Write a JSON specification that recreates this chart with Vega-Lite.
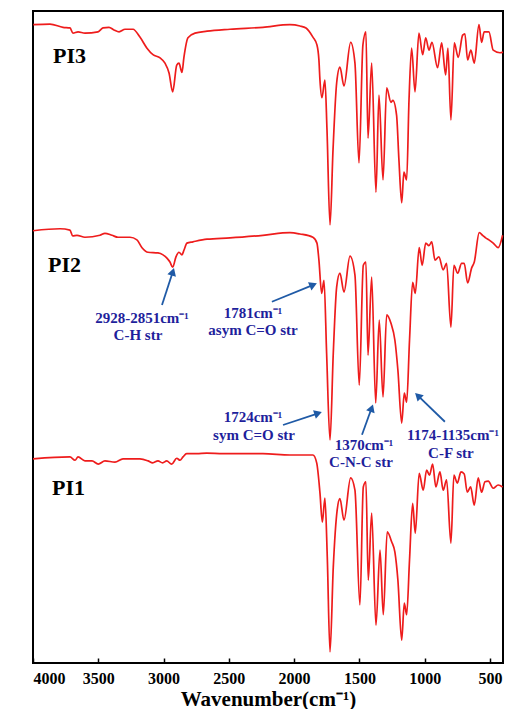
{
  "$schema": "https://vega.github.io/schema/vega-lite/v6.json",
  "autosize": "none",
  "width": 470,
  "height": 652,
  "padding": {"left": 33, "top": 11, "right": 4, "bottom": 46},
  "background": "white",
  "config": {
    "view": {"stroke": "black", "strokeWidth": 2},
    "font": "Liberation Serif"
  },
  "datasets": {
    "spectra": [
      {"s":"PI3","w":3998,"t":97.9},{"s":"PI3","w":3870,"t":98.0},{"s":"PI3","w":3770,"t":97.5},{"s":"PI3","w":3717,"t":97.4},{"s":"PI3","w":3694,"t":96.6},{"s":"PI3","w":3655,"t":96.8},{"s":"PI3","w":3602,"t":96.6},{"s":"PI3","w":3502,"t":96.8},{"s":"PI3","w":3464,"t":97.4},{"s":"PI3","w":3418,"t":97.5},{"s":"PI3","w":3380,"t":97.1},{"s":"PI3","w":3341,"t":96.8},{"s":"PI3","w":3295,"t":97.2},{"s":"PI3","w":3234,"t":97.2},{"s":"PI3","w":3181,"t":96.0},{"s":"PI3","w":3127,"t":94.3},{"s":"PI3","w":3081,"t":93.3},{"s":"PI3","w":3027,"t":92.8},{"s":"PI3","w":2989,"t":92.0},{"s":"PI3","w":2958,"t":90.5},{"s":"PI3","w":2930,"t":87.6},{"s":"PI3","w":2899,"t":91.7},{"s":"PI3","w":2882,"t":92.0},{"s":"PI3","w":2859,"t":90.6},{"s":"PI3","w":2844,"t":92.9},{"s":"PI3","w":2813,"t":95.9},{"s":"PI3","w":2759,"t":96.6},{"s":"PI3","w":2667,"t":96.9},{"s":"PI3","w":2491,"t":97.2},{"s":"PI3","w":2239,"t":97.5},{"s":"PI3","w":2032,"t":97.9},{"s":"PI3","w":1955,"t":97.7},{"s":"PI3","w":1909,"t":97.4},{"s":"PI3","w":1856,"t":96.0},{"s":"PI3","w":1825,"t":94.8},{"s":"PI3","w":1810,"t":92.5},{"s":"PI3","w":1802,"t":89.4},{"s":"PI3","w":1787,"t":86.7},{"s":"PI3","w":1764,"t":89.4},{"s":"PI3","w":1748,"t":81.7},{"s":"PI3","w":1725,"t":67.2},{"s":"PI3","w":1702,"t":78.7},{"s":"PI3","w":1674,"t":89.0},{"s":"PI3","w":1649,"t":91.4},{"s":"PI3","w":1618,"t":88.5},{"s":"PI3","w":1567,"t":95.2},{"s":"PI3","w":1534,"t":92.0},{"s":"PI3","w":1503,"t":76.7},{"s":"PI3","w":1473,"t":94.8},{"s":"PI3","w":1450,"t":96.8},{"s":"PI3","w":1434,"t":80.5},{"s":"PI3","w":1406,"t":92.0},{"s":"PI3","w":1373,"t":72.2},{"s":"PI3","w":1350,"t":87.1},{"s":"PI3","w":1319,"t":74.1},{"s":"PI3","w":1291,"t":88.2},{"s":"PI3","w":1258,"t":86.0},{"s":"PI3","w":1243,"t":86.3},{"s":"PI3","w":1215,"t":84.0},{"s":"PI3","w":1197,"t":77.1},{"s":"PI3","w":1176,"t":70.6},{"s":"PI3","w":1159,"t":75.3},{"s":"PI3","w":1138,"t":74.1},{"s":"PI3","w":1120,"t":86.3},{"s":"PI3","w":1100,"t":94.3},{"s":"PI3","w":1074,"t":87.6},{"s":"PI3","w":1044,"t":96.6},{"s":"PI3","w":1015,"t":93.3},{"s":"PI3","w":992,"t":95.9},{"s":"PI3","w":967,"t":94.0},{"s":"PI3","w":944,"t":95.2},{"s":"PI3","w":901,"t":91.3},{"s":"PI3","w":870,"t":95.1},{"s":"PI3","w":839,"t":90.2},{"s":"PI3","w":822,"t":94.3},{"s":"PI3","w":799,"t":83.3},{"s":"PI3","w":773,"t":95.1},{"s":"PI3","w":743,"t":92.9},{"s":"PI3","w":709,"t":96.3},{"s":"PI3","w":692,"t":96.5},{"s":"PI3","w":671,"t":92.5},{"s":"PI3","w":646,"t":94.0},{"s":"PI3","w":620,"t":92.0},{"s":"PI3","w":584,"t":97.9},{"s":"PI3","w":564,"t":95.2},{"s":"PI3","w":544,"t":96.8},{"s":"PI3","w":508,"t":96.8},{"s":"PI3","w":475,"t":94.0},{"s":"PI3","w":423,"t":93.6},{"s":"PI3","w":400,"t":93.7},
      {"s":"PI2","w":4000,"t":66.3},{"s":"PI2","w":3793,"t":66.6},{"s":"PI2","w":3717,"t":66.4},{"s":"PI2","w":3696,"t":65.5},{"s":"PI2","w":3663,"t":65.6},{"s":"PI2","w":3602,"t":65.3},{"s":"PI2","w":3487,"t":65.6},{"s":"PI2","w":3449,"t":65.9},{"s":"PI2","w":3395,"t":65.6},{"s":"PI2","w":3349,"t":65.3},{"s":"PI2","w":3257,"t":65.3},{"s":"PI2","w":3204,"t":64.9},{"s":"PI2","w":3165,"t":63.7},{"s":"PI2","w":3119,"t":63.0},{"s":"PI2","w":3043,"t":62.9},{"s":"PI2","w":3004,"t":62.6},{"s":"PI2","w":2974,"t":62.1},{"s":"PI2","w":2951,"t":61.5},{"s":"PI2","w":2930,"t":60.7},{"s":"PI2","w":2905,"t":62.3},{"s":"PI2","w":2882,"t":63.0},{"s":"PI2","w":2859,"t":62.6},{"s":"PI2","w":2844,"t":63.3},{"s":"PI2","w":2821,"t":64.4},{"s":"PI2","w":2775,"t":64.6},{"s":"PI2","w":2667,"t":65.0},{"s":"PI2","w":2491,"t":65.2},{"s":"PI2","w":2239,"t":65.6},{"s":"PI2","w":2032,"t":66.0},{"s":"PI2","w":1955,"t":65.8},{"s":"PI2","w":1856,"t":65.3},{"s":"PI2","w":1825,"t":64.4},{"s":"PI2","w":1810,"t":61.8},{"s":"PI2","w":1789,"t":56.7},{"s":"PI2","w":1771,"t":58.7},{"s":"PI2","w":1751,"t":47.5},{"s":"PI2","w":1725,"t":34.2},{"s":"PI2","w":1700,"t":47.5},{"s":"PI2","w":1674,"t":57.7},{"s":"PI2","w":1649,"t":59.8},{"s":"PI2","w":1618,"t":56.9},{"s":"PI2","w":1572,"t":62.4},{"s":"PI2","w":1534,"t":59.5},{"s":"PI2","w":1501,"t":42.6},{"s":"PI2","w":1470,"t":61.0},{"s":"PI2","w":1450,"t":61.5},{"s":"PI2","w":1434,"t":47.2},{"s":"PI2","w":1406,"t":59.2},{"s":"PI2","w":1375,"t":39.9},{"s":"PI2","w":1348,"t":52.6},{"s":"PI2","w":1319,"t":40.8},{"s":"PI2","w":1291,"t":53.4},{"s":"PI2","w":1258,"t":52.1},{"s":"PI2","w":1228,"t":49.5},{"s":"PI2","w":1205,"t":44.9},{"s":"PI2","w":1176,"t":36.8},{"s":"PI2","w":1156,"t":41.4},{"s":"PI2","w":1138,"t":40.0},{"s":"PI2","w":1116,"t":49.5},{"s":"PI2","w":1092,"t":58.4},{"s":"PI2","w":1072,"t":56.7},{"s":"PI2","w":1042,"t":63.7},{"s":"PI2","w":1019,"t":61.0},{"s":"PI2","w":992,"t":64.4},{"s":"PI2","w":967,"t":64.0},{"s":"PI2","w":946,"t":64.6},{"s":"PI2","w":921,"t":61.8},{"s":"PI2","w":891,"t":62.3},{"s":"PI2","w":858,"t":60.3},{"s":"PI2","w":832,"t":61.3},{"s":"PI2","w":799,"t":51.5},{"s":"PI2","w":776,"t":61.0},{"s":"PI2","w":747,"t":59.8},{"s":"PI2","w":717,"t":61.3},{"s":"PI2","w":697,"t":61.3},{"s":"PI2","w":671,"t":58.3},{"s":"PI2","w":640,"t":60.6},{"s":"PI2","w":620,"t":61.5},{"s":"PI2","w":582,"t":66.0},{"s":"PI2","w":556,"t":65.6},{"s":"PI2","w":533,"t":65.2},{"s":"PI2","w":508,"t":64.9},{"s":"PI2","w":475,"t":64.4},{"s":"PI2","w":437,"t":63.7},{"s":"PI2","w":403,"t":65.6},
      {"s":"PI1","w":4000,"t":31.3},{"s":"PI1","w":3717,"t":31.6},{"s":"PI1","w":3678,"t":31.1},{"s":"PI1","w":3655,"t":31.6},{"s":"PI1","w":3602,"t":31.0},{"s":"PI1","w":3548,"t":31.0},{"s":"PI1","w":3500,"t":30.5},{"s":"PI1","w":3449,"t":31.0},{"s":"PI1","w":3372,"t":30.8},{"s":"PI1","w":3311,"t":31.3},{"s":"PI1","w":3181,"t":31.3},{"s":"PI1","w":3119,"t":31.0},{"s":"PI1","w":3083,"t":30.7},{"s":"PI1","w":3043,"t":31.0},{"s":"PI1","w":3007,"t":30.7},{"s":"PI1","w":2976,"t":31.0},{"s":"PI1","w":2938,"t":30.5},{"s":"PI1","w":2899,"t":31.4},{"s":"PI1","w":2874,"t":31.1},{"s":"PI1","w":2851,"t":31.6},{"s":"PI1","w":2823,"t":32.1},{"s":"PI1","w":2746,"t":32.1},{"s":"PI1","w":2670,"t":32.2},{"s":"PI1","w":2545,"t":32.1},{"s":"PI1","w":2239,"t":32.1},{"s":"PI1","w":2032,"t":31.9},{"s":"PI1","w":1856,"t":31.9},{"s":"PI1","w":1827,"t":30.7},{"s":"PI1","w":1802,"t":26.1},{"s":"PI1","w":1784,"t":21.6},{"s":"PI1","w":1764,"t":25.3},{"s":"PI1","w":1746,"t":16.3},{"s":"PI1","w":1725,"t":1.7},{"s":"PI1","w":1700,"t":14.7},{"s":"PI1","w":1670,"t":23.5},{"s":"PI1","w":1649,"t":25.2},{"s":"PI1","w":1618,"t":21.9},{"s":"PI1","w":1567,"t":28.4},{"s":"PI1","w":1534,"t":26.5},{"s":"PI1","w":1496,"t":8.9},{"s":"PI1","w":1470,"t":27.0},{"s":"PI1","w":1450,"t":27.8},{"s":"PI1","w":1432,"t":12.7},{"s":"PI1","w":1406,"t":23.0},{"s":"PI1","w":1373,"t":5.8},{"s":"PI1","w":1342,"t":17.3},{"s":"PI1","w":1317,"t":7.4},{"s":"PI1","w":1287,"t":20.1},{"s":"PI1","w":1253,"t":18.6},{"s":"PI1","w":1228,"t":17.0},{"s":"PI1","w":1205,"t":12.7},{"s":"PI1","w":1176,"t":3.5},{"s":"PI1","w":1156,"t":9.2},{"s":"PI1","w":1138,"t":7.4},{"s":"PI1","w":1116,"t":15.8},{"s":"PI1","w":1092,"t":24.5},{"s":"PI1","w":1072,"t":19.9},{"s":"PI1","w":1042,"t":29.1},{"s":"PI1","w":1011,"t":26.5},{"s":"PI1","w":985,"t":29.6},{"s":"PI1","w":963,"t":28.8},{"s":"PI1","w":939,"t":30.5},{"s":"PI1","w":914,"t":27.0},{"s":"PI1","w":883,"t":29.3},{"s":"PI1","w":858,"t":26.5},{"s":"PI1","w":832,"t":28.1},{"s":"PI1","w":799,"t":18.4},{"s":"PI1","w":776,"t":28.8},{"s":"PI1","w":750,"t":27.6},{"s":"PI1","w":722,"t":29.3},{"s":"PI1","w":697,"t":29.0},{"s":"PI1","w":674,"t":26.2},{"s":"PI1","w":648,"t":27.0},{"s":"PI1","w":620,"t":24.2},{"s":"PI1","w":590,"t":28.4},{"s":"PI1","w":564,"t":26.2},{"s":"PI1","w":538,"t":27.8},{"s":"PI1","w":513,"t":27.9},{"s":"PI1","w":475,"t":26.8},{"s":"PI1","w":437,"t":27.3},{"s":"PI1","w":403,"t":27.0}
    ],
    "names": [
      {"label":"PI3","w":3847,"t":92.0},
      {"label":"PI2","w":3885,"t":60.0},
      {"label":"PI1","w":3854,"t":25.8}
    ],
    "notes": [
      {"label":"2928-2851cm⁻¹","w":3165,"t":52.1},
      {"label":"C-H str","w":3196,"t":49.5},
      {"label":"1781cm⁻¹","w":2315,"t":52.9},
      {"label":"asym C=O str","w":2315,"t":50.3},
      {"label":"1724cm⁻¹","w":2315,"t":37.0},
      {"label":"sym C=O str","w":2307,"t":34.2},
      {"label":"1370cm⁻¹","w":1465,"t":32.7},
      {"label":"C-N-C str","w":1488,"t":30.1},
      {"label":"1174-1135cm⁻¹","w":783,"t":34.2},
      {"label":"C-F  str","w":799,"t":31.4}
    ],
    "arrows": [
      {"w1":3012,"t1":54.9,"w2":2929,"t2":60.0,"ang":17.5},
      {"w1":2170,"t1":55.4,"w2":1853,"t2":58.0,"ang":67},
      {"w1":2085,"t1":36.5,"w2":1816,"t2":38.3,"ang":71.6},
      {"w1":1480,"t1":35.0,"w2":1406,"t2":39.1,"ang":19.5},
      {"w1":845,"t1":37.0,"w2":1052,"t2":41.0,"ang":314}
    ]
  },
  "layer": [
    {
      "data": {"name": "spectra"},
      "mark": {"type": "line", "color": "#ee1c1c", "strokeWidth": 1.7, "strokeJoin": "round", "interpolate": "monotone"},
      "encoding": {
        "x": {
          "field": "w", "type": "quantitative",
          "scale": {"domain": [4000, 400], "nice": false, "zero": false},
          "axis": {
            "values": [4000,3750,3500,3250,3000,2750,2500,2250,2000,1750,1500,1250,1000,750,500],
            "labelExpr": "datum.value % 500 === 0 ? format(datum.value, 'd') : ''",
            "domain": false,
            "grid": false,
            "tickSize": -5,
            "tickColor": "black",
            "tickWidth": 1.5,
            "labelFont": "Liberation Serif",
            "labelFontWeight": "bold",
            "labelFontSize": 16,
            "labelColor": "black",
            "labelPadding": 12,
            "labelDx": -4,
            "title": "Wavenumber(cm⁻¹)",
            "titleFont": "Liberation Serif",
            "titleFontWeight": "bold",
            "titleFontSize": 21,
            "titleColor": "black",
            "titleBaseline": "alphabetic",
            "titleY": 42
          }
        },
        "y": {
          "field": "t", "type": "quantitative",
          "scale": {"domain": [0, 100], "nice": false},
          "axis": null
        },
        "detail": {"field": "s"}
      }
    },
    {
      "data": {"name": "arrows"},
      "mark": {"type": "rule", "color": "#1f5aa6", "strokeWidth": 1.8},
      "encoding": {
        "x": {"field": "w1", "type": "quantitative"},
        "y": {"field": "t1", "type": "quantitative"},
        "x2": {"field": "w2"},
        "y2": {"field": "t2"}
      }
    },
    {
      "data": {"name": "arrows"},
      "mark": {"type": "point", "shape": "triangle-up", "filled": true, "color": "#1f5aa6", "opacity": 1, "size": 80},
      "encoding": {
        "x": {"field": "w2", "type": "quantitative"},
        "y": {"field": "t2", "type": "quantitative"},
        "angle": {"field": "ang", "type": "quantitative", "scale": null}
      }
    },
    {
      "data": {"name": "names"},
      "mark": {"type": "text", "align": "left", "baseline": "alphabetic", "font": "Liberation Serif", "fontWeight": "bold", "fontSize": 22, "color": "black"},
      "encoding": {
        "x": {"field": "w", "type": "quantitative"},
        "y": {"field": "t", "type": "quantitative"},
        "text": {"field": "label"}
      }
    },
    {
      "data": {"name": "notes"},
      "mark": {"type": "text", "align": "center", "baseline": "alphabetic", "font": "Liberation Serif", "fontWeight": "bold", "fontSize": 15, "color": "#1f1f9c"},
      "encoding": {
        "x": {"field": "w", "type": "quantitative"},
        "y": {"field": "t", "type": "quantitative"},
        "text": {"field": "label"}
      }
    }
  ]
}
